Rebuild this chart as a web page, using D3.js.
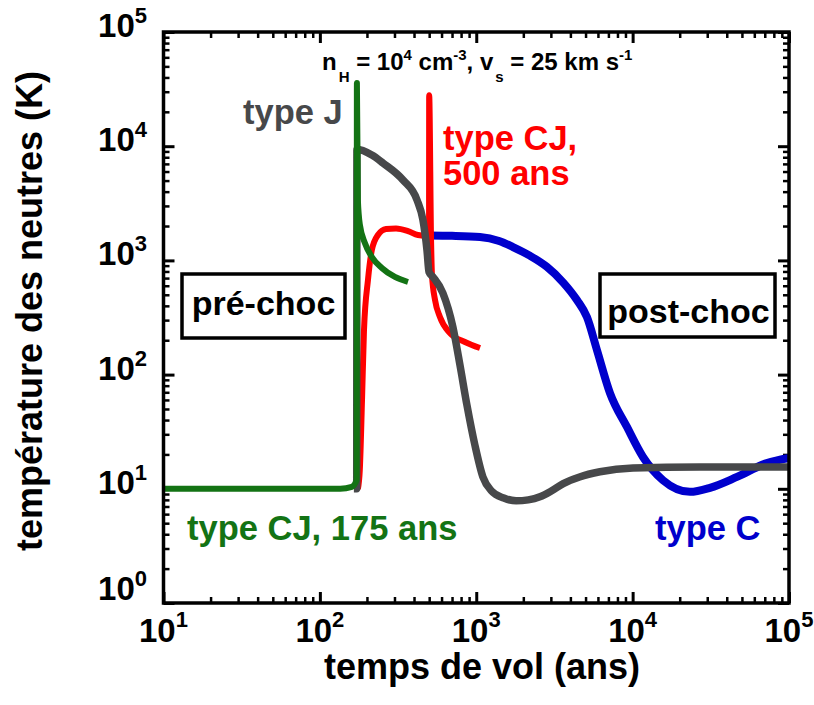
<!DOCTYPE html>
<html><head><meta charset="utf-8">
<script src="https://cdn.jsdelivr.net/npm/d3@7"></script>
<style>body{margin:0;background:#fff}text{font-family:"Liberation Sans",Arial,Helvetica,sans-serif;font-weight:bold}</style>
</head><body><svg id="c" width="814" height="705"></svg>
<script>
// Data (time in years, temperature in K)
const typeC_t = [500,700,1057,1400,1718,2200,2833,3600,4405,5103,5915,7165,9200,11650,15630,23270,31220,46490,72240,100000];
const typeC_T = [1650,1640,1603,1480,1310,1100,876,640,450,319,164,69,34.8,19,11.9,9.4,10.2,12.7,16.8,18.6];
const cj500_t = [175,180,186,191.5,203,215,235,265,307,366,424,499,500,514,521,545,586,679,847,1057];
const cj500_T = [10,14.6,60,246,673,1233,1668,1884,1905,1808,1668,1636,28000,1510,745,450,319,231,193,171];
const typeJ_t = [165,172,172.6,215,253,340,418,456,484,499,529,612,709,787,872,980,1103,1250,1500,1800,2150,2553,3000,3600,4580,6180,10050,26900,100000];
const typeJ_T = [10,10,9400,8370,7130,5060,3380,2260,1233,791,716,518,261,121,54,24.2,12.7,9.6,8.3,7.85,8.0,8.5,9.5,11.1,12.7,14.1,15.2,15.5,15.5];
const cj175_t = [10,135,160,172,172.5,175,180.3,194,215,249,302,366];
const cj175_T = [10,10,10.4,12,35700,3380,2042,1420,1071,858,716,647];
const xTicks = [10,100,1000,10000,100000];
const xExp = ["1","2","3","4","5"];
const yTicks = [1,10,100,1000,10000,100000];
const yExp = ["0","1","2","3","4","5"];

const svg = d3.select("#c");
const L=163.5, R=789, T=32, B=603;
const x = d3.scaleLog().domain([10,1e5]).range([L,R]);
const y = d3.scaleLog().domain([1,1e5]).range([B,T]);

function minors(lo,hi){const a=[];for(let d=lo;d<hi;d*=10)for(let k=2;k<=9;k++)a.push(d*k);return a;}
const xMin = minors(10,1e5), yMin = minors(1,1e5);
function styleAx(g,w){g.select(".domain").remove();g.selectAll("line").attr("stroke","#000").attr("stroke-width",w);g.selectAll("text").remove();}
svg.append("g").attr("transform",`translate(0,${B})`).call(d3.axisBottom(x).tickValues(xTicks).tickSize(-11)).call(g=>styleAx(g,3));
svg.append("g").attr("transform",`translate(0,${B})`).call(d3.axisBottom(x).tickValues(xMin).tickSize(-6)).call(g=>styleAx(g,2.5));
svg.append("g").attr("transform",`translate(0,${T})`).call(d3.axisTop(x).tickValues(xTicks).tickSize(-11)).call(g=>styleAx(g,3));
svg.append("g").attr("transform",`translate(0,${T})`).call(d3.axisTop(x).tickValues(xMin).tickSize(-6)).call(g=>styleAx(g,2.5));
svg.append("g").attr("transform",`translate(${L},0)`).call(d3.axisLeft(y).tickValues(yTicks).tickSize(-11)).call(g=>styleAx(g,3));
svg.append("g").attr("transform",`translate(${L},0)`).call(d3.axisLeft(y).tickValues(yMin).tickSize(-6)).call(g=>styleAx(g,2.5));
svg.append("g").attr("transform",`translate(${R},0)`).call(d3.axisRight(y).tickValues(yTicks).tickSize(-11)).call(g=>styleAx(g,3));
svg.append("g").attr("transform",`translate(${R},0)`).call(d3.axisRight(y).tickValues(yMin).tickSize(-6)).call(g=>styleAx(g,2.5));

xTicks.forEach((v,i)=>{
  const t=svg.append("text").attr("x",x(v)).attr("y",642).attr("text-anchor","middle").attr("font-size",33);
  t.append("tspan").text("10");
  t.append("tspan").attr("dy",-15).attr("font-size",22).text(xExp[i]);
});
yTicks.forEach((v,i)=>{
  const t=svg.append("text").attr("x",147).attr("y",Math.min(y(v)+5,600)).attr("text-anchor","end").attr("font-size",33);
  t.append("tspan").text("10");
  t.append("tspan").attr("dy",-14).attr("font-size",22).text(yExp[i]);
});

const line = d3.line().x(d=>x(d[0])).y(d=>y(d[1])).curve(d3.curveMonotoneX);
const plot = svg.append("g");
function draw(ts,Ts,col,w){plot.append("path").attr("d",line(ts.map((t,i)=>[t,Ts[i]]))).attr("fill","none").attr("stroke",col).attr("stroke-width",w).attr("stroke-linejoin","round");}
draw(typeC_t,typeC_T,"#0000cc",8);
draw(cj500_t,cj500_T,"#ff0000",6);
draw(typeJ_t,typeJ_T,"#47484a",7.5);
draw(cj175_t,cj175_T,"#137314",6);

svg.append("rect").attr("x",L).attr("y",T).attr("width",R-L).attr("height",B-T).attr("fill","none").attr("stroke","#000").attr("stroke-width",3.5);

function box(x0,y0,x1,y1,txt,tx,ty){
  svg.append("rect").attr("x",x0).attr("y",y0).attr("width",x1-x0).attr("height",y1-y0).attr("fill","#fff").attr("stroke","#000").attr("stroke-width",3.5);
  svg.append("text").attr("x",tx).attr("y",ty).attr("text-anchor","middle").attr("font-size",34).text(txt);
}
box(182,274,345,338,"pré-choc",263.5,315);
box(600,274,775,337,"post-choc",688.5,323);

svg.append("text").attr("x",243).attr("y",124).attr("font-size",34.5).attr("fill","#47484a").text("type J");
svg.append("text").attr("x",443).attr("y",150).attr("font-size",34.5).attr("fill","#ff0000").text("type CJ,");
svg.append("text").attr("x",443).attr("y",185).attr("font-size",34.5).attr("fill","#ff0000").text("500 ans");
svg.append("text").attr("x",187).attr("y",540).attr("font-size",34.5).attr("fill","#137314").text("type CJ, 175 ans");
svg.append("text").attr("x",655).attr("y",540).attr("font-size",34.5).attr("fill","#0000cc").text("type C");

const ann = svg.append("text").attr("x",322).attr("y",70).attr("font-size",24);
ann.append("tspan").text("n");
ann.append("tspan").attr("dy",12).attr("font-size",15).attr("dx",2).text("H");
ann.append("tspan").attr("dy",-12).text(" = 10");
ann.append("tspan").attr("dy",-10).attr("font-size",15).text("4");
ann.append("tspan").attr("dy",10).text(" cm");
ann.append("tspan").attr("dy",-10).attr("font-size",15).text("-3");
ann.append("tspan").attr("dy",10).text(", v");
ann.append("tspan").attr("dy",12).attr("font-size",15).attr("dx",2).text("s");
ann.append("tspan").attr("dy",-12).text(" = 25 km s");
ann.append("tspan").attr("dy",-10).attr("font-size",15).text("-1");

svg.append("text").attr("x",482).attr("y",679).attr("text-anchor","middle").attr("font-size",36).text("temps de vol (ans)");
svg.append("text").attr("transform","translate(42,311) rotate(-90)").attr("text-anchor","middle").attr("font-size",36).text("température des neutres (K)");
</script></body></html>
